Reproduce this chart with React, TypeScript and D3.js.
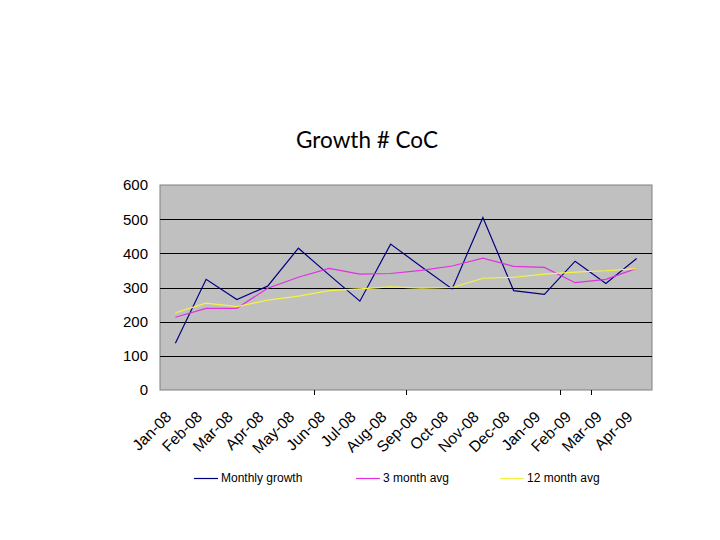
import React from 'react';
import * as d3 from 'd3';

const months = [
  'Jan-08', 'Feb-08', 'Mar-08', 'Apr-08', 'May-08', 'Jun-08', 'Jul-08', 'Aug-08',
  'Sep-08', 'Oct-08', 'Nov-08', 'Dec-08', 'Jan-09', 'Feb-09', 'Mar-09', 'Apr-09',
];

const monthlyGrowth = [137, 324, 265, 304, 415, 337, 260, 427, 361, 296, 505, 291, 280, 377, 312, 385];
const threeMonthAvg = [213, 239, 239, 298, 330, 356, 339, 341, 350, 363, 386, 362, 359, 314, 324, 356];
const twelveMonthAvg = [226, 254, 244, 263, 275, 291, 296, 302, 298, 300, 327, 330, 339, 345, 349, 355];

const yTicks = [0, 100, 200, 300, 400, 500, 600];
// category boundaries that carry a tick mark in the original
const tickBoundaries = [5, 8, 13, 14];

const series = [
  { name: 'Monthly growth', values: monthlyGrowth, color: '#000080' },
  { name: '3 month avg', values: threeMonthAvg, color: '#e030e0' },
  { name: '12 month avg', values: twelveMonthAvg, color: '#f4f440' },
];

const App: React.FC = () => {
  const width = 720;
  const height = 540;
  const plot = { left: 160, right: 652, top: 185, bottom: 390 };

  const x = d3.scaleBand<string>()
    .domain(months)
    .range([plot.left, plot.right]);

  const y = d3.scaleLinear()
    .domain([0, 600])
    .range([plot.bottom, plot.top]);

  const cx = (m: string) => x(m)! + x.bandwidth() / 2;

  const line = d3.line<number>()
    .x((_, i) => cx(months[i]))
    .y(d => y(d));

  const legendX = [194, 356, 500];

  return (
    <svg width={width} height={height} style={{ position: 'absolute', left: 0, top: 0, background: '#fff' }}>
      <text x={367} y={148} textAnchor="middle" fontFamily="Lato, 'Open Sans', sans-serif" fontSize={22.5} fill="#000">
        Growth # CoC
      </text>

      <rect x={plot.left} y={plot.top} width={plot.right - plot.left} height={plot.bottom - plot.top}
        fill="#c0c0c0" stroke="#808080" strokeWidth={1} />

      {/* gridlines */}
      {yTicks.filter(t => t > 0 && t < 600).map(t => (
        <line key={t} x1={plot.left} x2={plot.right} y1={Math.round(y(t)) + 0.5} y2={Math.round(y(t)) + 0.5}
          stroke="#000" strokeWidth={1} />
      ))}

      {/* y tick labels */}
      {yTicks.map(t => (
        <text key={t} x={148} y={y(t)} dy="0.36em" textAnchor="end"
          fontFamily="'Liberation Sans', Arial, sans-serif" fontSize={15} fill="#000">{t}</text>
      ))}

      {/* x tick marks */}
      {tickBoundaries.map(b => {
        const bx = Math.round(plot.left + b * x.step()) + 0.5;
        return <line key={b} x1={bx} x2={bx} y1={plot.bottom} y2={plot.bottom + 5} stroke="#000" />;
      })}

      {/* x tick labels */}
      {months.map(m => (
        <text key={m} transform={`translate(${cx(m) - 3},${plot.bottom + 28}) rotate(-45)`}
          textAnchor="end" fontFamily="'Liberation Sans', Arial, sans-serif" fontSize={15.5} fill="#000">{m}</text>
      ))}

      {/* series lines */}
      {series.map(s => (
        <path key={s.name} d={line(s.values) ?? ''} fill="none" stroke={s.color} strokeWidth={1.2} />
      ))}

      {/* legend */}
      {series.map((s, i) => (
        <g key={s.name} transform={`translate(${legendX[i]},478)`}>
          <line x1={0} x2={24} y1={0.5} y2={0.5} stroke={s.color} strokeWidth={1.2} />
          <text x={27} y={0} dy="0.35em" fontFamily="'Liberation Sans', Arial, sans-serif" fontSize={12} fill="#000">
            {s.name}
          </text>
        </g>
      ))}
    </svg>
  );
};

export default App;
